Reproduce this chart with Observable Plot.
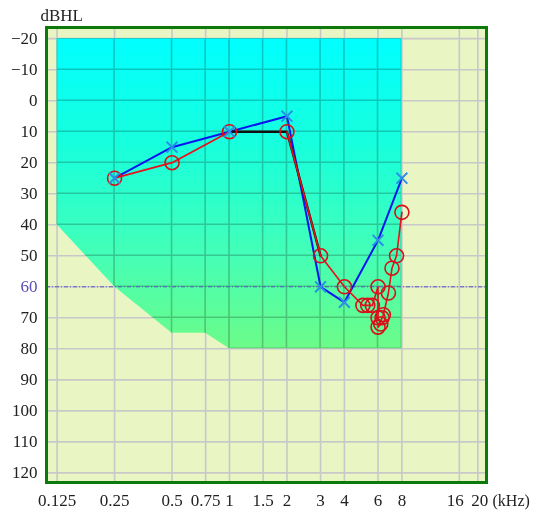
<!DOCTYPE html>
<html><head><meta charset="utf-8">
<script src="https://cdn.jsdelivr.net/npm/d3@7"></script>
<script src="https://cdn.jsdelivr.net/npm/@observablehq/plot@0.6"></script>
<style>body{margin:0;background:#fff}#chart{width:538px;height:512px}</style>
</head><body><div id="chart"></div>
<script>
const xTicks = [0.125, 0.25, 0.5, 0.75, 1, 1.5, 2, 3, 4, 6, 8, 16, 20];
const xTickLabels = ["0.125", "0.25", "0.5", "0.75", "1", "1.5", "2", "3", "4", "6", "8", "16", "20"];
const yTicks = [-20, -10, 0, 10, 20, 30, 40, 50, 60, 70, 80, 90, 100, 110, 120];
const yTickLabels = ["−20", "−10", "0", "10", "20", "30", "40", "50", "60", "70", "80", "90", "100", "110", "120"];
const refLevel = 60;

// shaded region (test range)
const regionFreq = [0.125, 0.25, 0.5, 0.75, 1, 8];
const regionLow = [40, 60, 75, 75, 80, 80];
const regionTop = [-20, -20, -20, -20, -20, -20];

// blue series (X markers)
const blueFreq = [0.25, 0.5, 1, 2, 3, 4, 6, 8];
const blueDb = [25, 15, 10, 5, 60, 65, 45, 25];

// red series (O markers)
const redFreq = [0.25, 0.5, 1, 2, 3, 4, 5, 5.3, 5.6, 6, 6, 6.2, 6, 6.3, 6.4, 6.8, 7.1, 7.5, 8];
const redDb = [25, 20, 10, 10, 50, 60, 66, 66, 66, 60, 70, 72, 73, 70, 69, 62, 54, 50, 36];

// black segment
const blackFreq = [1, 2, 3];
const blackDb = [10, 10, 50];

const blue = blueFreq.map((f, i) => ({f, db: blueDb[i]}));
const red = redFreq.map((f, i) => ({f, db: redDb[i]}));
const black = blackFreq.map((f, i) => ({f, db: blackDb[i]}));
const redA = red.slice(0, 3);
const redB = red.slice(3);

const font = "'Liberation Serif', 'DejaVu Serif', serif";
const gridColor = "#c8c8c8";
const ns = "http://www.w3.org/2000/svg";
const el = (name, attrs = {}) => {
  const e = document.createElementNS(ns, name);
  for (const k in attrs) e.setAttribute(k, attrs[k]);
  return e;
};

// region drawn through Plot's scales, with gradient and blended grid inside
function regionMark(index, scales, values, dimensions) {
  const x = scales.x, y = scales.y;
  const {marginLeft, marginTop, width, height, marginRight, marginBottom} = dimensions;
  const lower = regionFreq.map((f, i) => [x(f), y(regionLow[i])]);
  const upper = regionFreq.map((f, i) => [x(f), y(regionTop[i])]).reverse();
  const d = "M" + lower.concat(upper).map(p => p[0].toFixed(2) + "," + p[1].toFixed(2)).join("L") + "Z";
  const g = el("g", {"aria-label": "region"});
  const defs = el("defs");
  const grad = el("linearGradient", {id: "hlgrad", x1: "0", y1: "0", x2: "0", y2: "1"});
  [["0", "#00ffff"], ["0.35", "#18ffdc"], ["0.7", "#44ffb6"], ["1", "#6cfb88"]].forEach(([o, c]) =>
    grad.appendChild(el("stop", {offset: o, "stop-color": c})));
  defs.appendChild(grad);
  const cp = el("clipPath", {id: "regionclip"});
  cp.appendChild(el("path", {d}));
  defs.appendChild(cp);
  g.appendChild(defs);
  g.appendChild(el("path", {d, style: "fill: url(#hlgrad) #2fffc8; stroke: none"}));
  const gg = el("g", {"clip-path": "url(#regionclip)", stroke: gridColor, "stroke-width": "1.6", style: "mix-blend-mode: multiply"});
  const x0 = marginLeft, x1 = width - marginRight, y0 = marginTop, y1 = height - marginBottom;
  xTicks.forEach(t => gg.appendChild(el("line", {x1: x(t), x2: x(t), y1: y0, y2: y1})));
  yTicks.forEach(t => gg.appendChild(el("line", {x1: x0, x2: x1, y1: y(t), y2: y(t)})));
  g.appendChild(gg);
  return g;
}

const xMain = xTicks.filter(t => t < 16);
const chart = Plot.plot({
  width: 538,
  height: 512,
  marginLeft: 46,
  marginRight: 52,
  marginTop: 27,
  marginBottom: 30,
  x: {type: "log", domain: [0.11, 22.2], axis: null},
  y: {domain: [-23.6, 123.1], reverse: true, axis: null},
  style: {fontFamily: font, fontSize: "17px", background: "white", overflow: "visible"},
  marks: [
    Plot.frame({fill: "#eaf5c4", stroke: "none"}),
    Plot.ruleX(xTicks, {x: d => d, stroke: gridColor, strokeWidth: 1.6}),
    Plot.ruleY(yTicks, {y: d => d, stroke: gridColor, strokeWidth: 1.6}),
    regionMark,
    Plot.ruleY([refLevel], {y: d => d, stroke: "#5a55c0", strokeWidth: 1, strokeDasharray: "4,2,1,2"}),
    Plot.line(blue, {x: "f", y: "db", stroke: "#0a14f0", strokeWidth: 2}),
    Plot.line(black, {x: "f", y: "db", stroke: "#111", strokeWidth: 2.4}),
    Plot.line(redA, {x: "f", y: "db", stroke: "#e8101a", strokeWidth: 1.8}),
    Plot.line(redB, {x: "f", y: "db", stroke: "#e8101a", strokeWidth: 1.6}),
    Plot.dot(red, {x: "f", y: "db", r: 7, stroke: "#d8101a", strokeWidth: 1.6, fill: "none"}),
    Plot.dot(blue, {x: "f", y: "db", symbol: "times", r: 5, stroke: "#2a8fe8", strokeWidth: 2}),
    Plot.frame({stroke: "#0b7a0b", strokeWidth: 3}),
    Plot.text(xMain, {x: d => d, text: d => xTickLabels[xTicks.indexOf(d)], frameAnchor: "bottom", dy: 18, lineAnchor: "middle", fill: "#222"}),
    Plot.text([16], {x: d => d, text: d => xTickLabels[xTicks.indexOf(d)], frameAnchor: "bottom", dx: -4, dy: 18, lineAnchor: "middle", fill: "#222"}),
    Plot.text([20], {x: d => d, text: d => xTickLabels[xTicks.indexOf(d)], frameAnchor: "bottom", dx: 2, dy: 18, lineAnchor: "middle", fill: "#222"}),
    Plot.text(["(kHz)"], {frameAnchor: "bottom-right", dx: 6, dy: 18, textAnchor: "start", lineAnchor: "middle", fill: "#222", fontSize: 16}),
    Plot.text(yTicks.filter(d => d !== refLevel), {y: d => d, text: d => yTickLabels[yTicks.indexOf(d)], frameAnchor: "left", dx: -9, textAnchor: "end", lineAnchor: "middle", fill: "#222"}),
    Plot.text([refLevel], {y: d => d, text: d => yTickLabels[yTicks.indexOf(d)], frameAnchor: "left", dx: -9, textAnchor: "end", lineAnchor: "middle", fill: "#5a4fb5"}),
    Plot.text(["dBHL"], {frameAnchor: "top-left", dx: -6, dy: -12, textAnchor: "start", lineAnchor: "middle", fill: "#222"})
  ]
});
document.getElementById("chart").appendChild(chart);
</script>
</body></html>
